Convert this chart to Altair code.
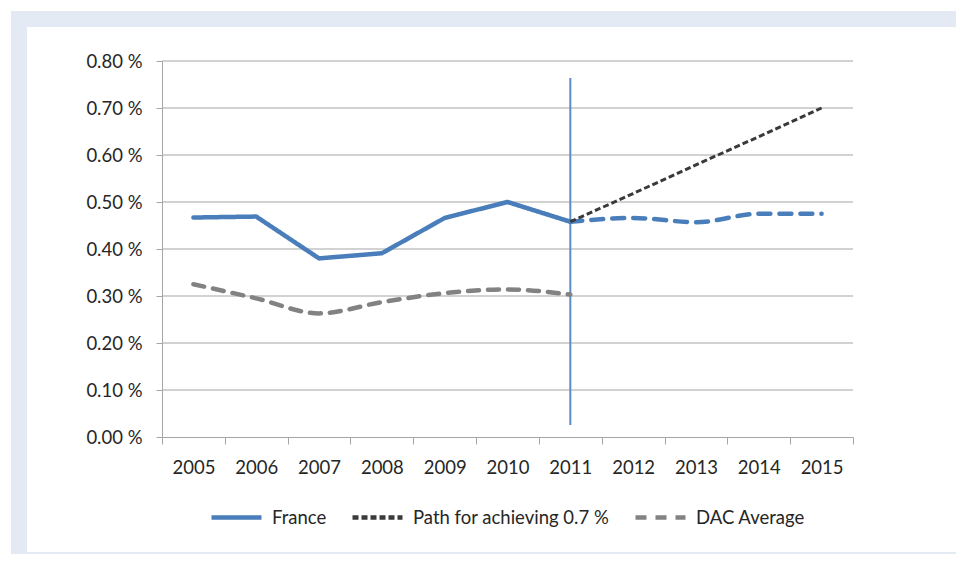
import altair as alt
import pandas as pd

# ---- data ----
years_hist = [2005, 2006, 2007, 2008, 2009, 2010, 2011]
france_hist = [0.467, 0.469, 0.380, 0.391, 0.466, 0.500, 0.458]
dac_average = [0.325, 0.295, 0.263, 0.287, 0.306, 0.314, 0.303]

years_proj = [2011, 2012, 2013, 2014, 2015]
france_proj = [0.458, 0.466, 0.457, 0.475, 0.475]
path_07 = [0.458, 0.518, 0.579, 0.639, 0.700]

series_names = ["France", "Path for achieving 0.7 %", "DAC Average"]
series_colors = ["#4A7EBB", "#3A3A3A", "#828282"]
series_dashes = [[1, 0], [6, 3], [11, 9]]

y_ticks = [0.0, 0.1, 0.2, 0.3, 0.4, 0.5, 0.6, 0.7, 0.8]
x_tick_edges = [2004.5, 2005.5, 2006.5, 2007.5, 2008.5, 2009.5, 2010.5,
                2011.5, 2012.5, 2013.5, 2014.5, 2015.5]
divider_year = [2011]

FONT = "Lato"
FS = 18.5
TXT = "#262626"
GRID = "#A6A6A6"
W, H = 691, 376

fr_df = pd.DataFrame({"year": years_hist, "value": france_hist, "series": series_names[0]})
path_df = pd.DataFrame({"year": years_proj, "value": path_07, "series": series_names[1]})
dac_df = pd.DataFrame({"year": years_hist, "value": dac_average, "series": series_names[2]})
proj_df = pd.DataFrame({"year": years_proj, "value": france_proj})
grid_df = pd.DataFrame({"value": y_ticks[1:]})
div_df = pd.DataFrame({"year": divider_year})

X = alt.X(
    "year:Q",
    scale=alt.Scale(domain=[2004.5, 2015.5], nice=False, zero=False),
    axis=alt.Axis(
        values=x_tick_edges, title=None, grid=False,
        labelExpr="datum.value < 2015 ? format(datum.value + 0.5, 'd') : ''",
        labelOffset=W / 22, labelFont=FONT, labelFontSize=FS, labelColor=TXT,
        labelPadding=14, tickSize=7, tickColor=GRID, domainColor=GRID,
        labelOverlap=False, labelFlush=False, zindex=1,
    ),
)
Y = alt.Y(
    "value:Q",
    scale=alt.Scale(domain=[0, 0.8], nice=False),
    axis=alt.Axis(
        values=y_ticks, title=None, grid=False,
        labelExpr="format(datum.value, '.2f') + ' %'",
        labelFont=FONT, labelFontSize=FS, labelColor=TXT,
        labelPadding=14, tickSize=6, tickColor=GRID, domainColor=GRID,
        zindex=1,
    ),
)

leg = alt.Legend(
    title=None, orient="none", legendX=47, legendY=429, direction="horizontal",
    symbolType="stroke", symbolSize=2500, symbolStrokeWidth=4.5,
    labelFont=FONT, labelFontSize=FS, labelLimit=0,
    labelColor=TXT, labelOffset=8, columnPadding=16, padding=0,
)
enc = dict(
    color=alt.Color("series:N", scale=alt.Scale(domain=series_names, range=series_colors), legend=leg),
    strokeDash=alt.StrokeDash("series:N", scale=alt.Scale(domain=series_names, range=series_dashes), legend=leg),
)

one = pd.DataFrame({"d": [0]})
frame = alt.Chart(one).mark_rect(color="#E4EAF4").encode(
    x=alt.value(-151), x2=alt.value(794), y=alt.value(-50), y2=alt.value(493))
panel = alt.Chart(one).mark_rect(color="white").encode(
    x=alt.value(-135), x2=alt.value(794), y=alt.value(-34), y2=alt.value(491))

grid = alt.Chart(grid_df).mark_rule(color=GRID, strokeWidth=1.2).encode(
    y=Y, x=alt.value(0), x2=alt.value(W))

divider = alt.Chart(div_df).mark_rule(color="#5B8CC8", strokeWidth=2).encode(
    x=X, y=alt.value(17), y2=alt.value(364))

proj = alt.Chart(proj_df).mark_line(
    color=series_colors[0], strokeDash=[12, 9], strokeWidth=4.5,
    strokeCap="round", interpolate="monotone").encode(x=X, y=Y)

dac = alt.Chart(dac_df).mark_line(strokeWidth=4.5, strokeCap="round",
                                  interpolate="monotone").encode(x=X, y=Y, **enc)
fr = alt.Chart(fr_df).mark_line(strokeWidth=4.5, strokeCap="round",
                                strokeJoin="round").encode(x=X, y=Y, **enc)
path = alt.Chart(path_df).mark_line(strokeWidth=3).encode(x=X, y=Y, **enc)

chart = alt.layer(frame, panel, grid, divider, proj, dac, fr, path).properties(
    width=W, height=H,
    autosize=alt.AutoSizeParams(type="none"),
    padding={"left": 154, "top": 53, "right": 948 - 154 - W, "bottom": 546 - 53 - H},
    background="white",
).configure_view(stroke=None)

chart.save("out.html", embed_options={"renderer": "svg", "actions": False})
